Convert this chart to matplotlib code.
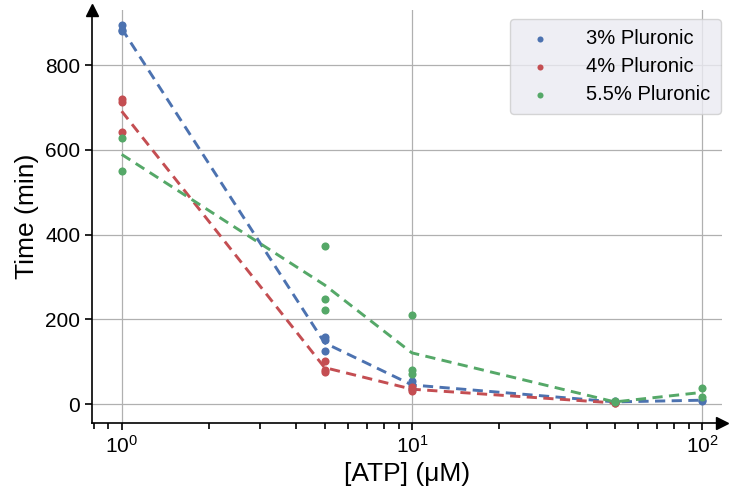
import numpy as np
import matplotlib
matplotlib.use("Agg")
import matplotlib.pyplot as plt

plt.rcParams['font.family'] = ['Liberation Sans', 'DejaVu Sans']
plt.rcParams['mathtext.fontset'] = 'custom'
plt.rcParams['mathtext.rm'] = 'Liberation Sans'

atp_levels = [1, 5, 10, 50, 100]

p3_x = [1, 1, 1, 5, 5, 5, 10, 10, 10, 50, 50, 100, 100]
p3_y = [895, 883, 880, 157, 152, 124, 55, 45, 35, 6, 4, 10, 8]

p4_x = [1, 1, 1, 5, 5, 5, 10, 10, 10, 50, 50]
p4_y = [720, 712, 641, 102, 81, 75, 40, 35, 30, 3, 2]

p55_x = [1, 1, 5, 5, 5, 10, 10, 10, 50, 50, 100, 100]
p55_y = [627, 551, 373, 247, 223, 211, 81, 70, 6, 4, 38, 17]

labels = ['3% Pluronic', '4% Pluronic', '5.5% Pluronic']
colors = ['#4C72B0', '#C44E52', '#55A868']

fig = plt.figure(figsize=(7.3, 4.96), dpi=100)
ax = fig.add_axes([0.126, 0.147, 0.863, 0.833])

series = [(p3_x, p3_y), (p4_x, p4_y), (p55_x, p55_y)]
for (xs, ys), lab, c in zip(series, labels, colors):
    xs = np.array(xs); ys = np.array(ys, dtype=float)
    ux = [u for u in atp_levels if u in xs]
    means = [ys[xs == u].mean() for u in ux]
    ax.plot(ux, means, linestyle=(0, (3.5, 2.2)), color=c, lw=2.1, zorder=2)
    ax.scatter(xs, ys, s=34, color=c, label=lab, zorder=3, linewidths=0)

ax.set_xscale('log')
ax.set_xlim(0.79, 117)
ax.set_ylim(-45, 930)
ax.set_yticks([0, 200, 400, 600, 800])
ax.grid(True, which='major', color='#b0b0b0', lw=0.9)
ax.set_axisbelow(True)

for s in ['top', 'right']:
    ax.spines[s].set_visible(False)
for s in ['left', 'bottom']:
    ax.spines[s].set_color('black')
    ax.spines[s].set_linewidth(1.2)

ax.tick_params(axis='both', which='major', direction='out', length=5, width=1.2,
               labelsize=15, colors='black')
ax.tick_params(axis='x', which='minor', direction='out', length=4, width=1.2)

ax.plot(1, 0, '>k', markersize=8, transform=ax.transAxes, clip_on=False)
ax.plot(0, 1, '^k', markersize=8, transform=ax.transAxes, clip_on=False)

ax.set_xlabel('[ATP] (μM)', fontsize=19)
ax.set_ylabel('Time (min)', fontsize=19)

leg = ax.legend(loc='upper right', fontsize=14.5, frameon=True, fancybox=True,
                facecolor='#EAEAF2', edgecolor='#cccccc', framealpha=0.8,
                markerscale=0.75, borderpad=0.5, labelspacing=0.45,
                handletextpad=1.3, borderaxespad=0.0,
                bbox_to_anchor=(0.998, 0.978))

fig.savefig('out.png', dpi=100)
